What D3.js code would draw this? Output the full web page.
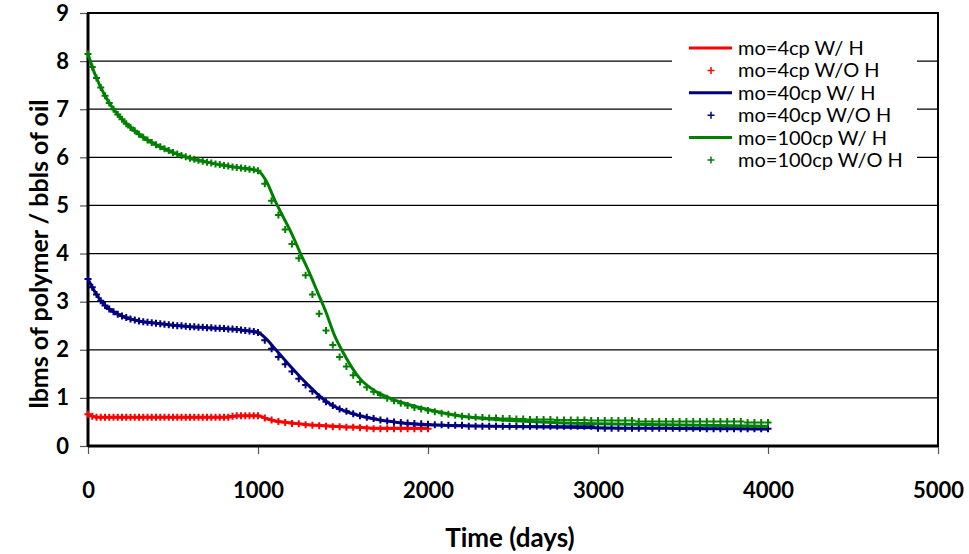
<!DOCTYPE html>
<html>
<head>
<meta charset="utf-8">
<script src="https://cdn.jsdelivr.net/npm/d3@7"></script>
<style>
  body { margin: 0; background: #fff; }
  text { font-family: Lato, "Open Sans", sans-serif; }
</style>
</head>
<body>
<div id="my_dataviz"></div>
<script>
// ---- data ----
var xTicks = [0, 1000, 2000, 3000, 4000, 5000];
var yTicks = [0, 1, 2, 3, 4, 5, 6, 7, 8, 9];

var seriesNames = ["mo=4cp W/ H", "mo=4cp W/O H", "mo=40cp W/ H", "mo=40cp W/O H", "mo=100cp W/ H", "mo=100cp W/O H"];

// times (days) for the "W/ H" lines
var tLine = [0, 25, 50, 100, 150, 200, 300, 400, 500, 600, 700, 800, 900, 1000, 1050, 1100, 1150, 1200, 1250, 1300,
             1350, 1400, 1450, 1500, 1600, 1700, 1800, 1900, 2000, 2200, 2400, 2600, 2800, 3000, 3200, 3400, 3600, 3800, 4000];

var redLine = [0.66, 0.62, 0.60, 0.60, 0.60, 0.60, 0.60, 0.60, 0.60, 0.60, 0.60, 0.60, 0.63, 0.63, 0.57, 0.52, 0.50, 0.48, 0.46, 0.44,
               0.43, 0.42, 0.41, 0.40, 0.39, 0.37, 0.37, 0.37, 0.37];
var blueLine = [3.47, 3.30, 3.15, 2.92, 2.79, 2.70, 2.60, 2.55, 2.51, 2.48, 2.46, 2.44, 2.41, 2.36, 2.22, 2.02, 1.82, 1.62, 1.43, 1.25,
                1.08, 0.93, 0.82, 0.74, 0.63, 0.55, 0.50, 0.46, 0.44, 0.42, 0.41, 0.40, 0.39, 0.38, 0.37, 0.37, 0.36, 0.36, 0.35];
var greenLine = [8.15, 7.88, 7.65, 7.28, 7.00, 6.79, 6.48, 6.26, 6.10, 5.98, 5.90, 5.83, 5.78, 5.72, 5.50, 5.10, 4.75, 4.40, 4.00, 3.62,
                 3.20, 2.78, 2.30, 1.95, 1.40, 1.12, 0.96, 0.85, 0.76, 0.62, 0.55, 0.51, 0.48, 0.46, 0.45, 0.44, 0.43, 0.42, 0.41];

// times (days) for the "W/O H" markers
var tMark = [0, 25, 50, 75, 100, 125, 150, 175, 200, 225, 250, 275, 300, 325, 350, 375, 400, 425, 450, 475, 500,
             525, 550, 575, 600, 625, 650, 675, 700, 725, 750, 775, 800, 825, 850, 875, 900, 925, 950, 975, 1000,
             1040, 1080, 1120, 1160, 1200, 1240, 1280, 1320, 1360, 1400, 1440, 1480, 1520, 1560, 1600, 1640, 1680, 1720, 1760, 1800, 1840, 1880, 1920, 1960, 2000,
             2040, 2080, 2120, 2160, 2200, 2240, 2280, 2320, 2360, 2400, 2440, 2480, 2520, 2560, 2600, 2640, 2680, 2720, 2760, 2800, 2840, 2880, 2920, 2960, 3000,
             3040, 3080, 3120, 3160, 3200, 3240, 3280, 3320, 3360, 3400, 3440, 3480, 3520, 3560, 3600, 3640, 3680, 3720, 3760, 3800, 3840, 3880, 3920, 3960, 4000];

var redMark = [0.66, 0.62, 0.60, 0.60, 0.60, 0.60, 0.60, 0.60, 0.60, 0.60, 0.60, 0.60, 0.60, 0.60, 0.60, 0.60, 0.60, 0.60, 0.60, 0.60, 0.60,
               0.60, 0.60, 0.60, 0.60, 0.60, 0.60, 0.60, 0.60, 0.60, 0.60, 0.60, 0.60, 0.60, 0.62, 0.63, 0.63, 0.63, 0.63, 0.63, 0.63,
               0.58, 0.54, 0.51, 0.49, 0.47, 0.46, 0.44, 0.43, 0.42, 0.41, 0.40, 0.40, 0.39, 0.39, 0.38, 0.37, 0.36, 0.36, 0.36, 0.36, 0.36, 0.36, 0.36, 0.36, 0.36];
var blueMark = [3.47, 3.30, 3.15, 3.02, 2.92, 2.85, 2.79, 2.74, 2.70, 2.67, 2.64, 2.62, 2.60, 2.58, 2.57, 2.56, 2.55, 2.54, 2.53, 2.52, 2.51,
                2.50, 2.50, 2.49, 2.48, 2.48, 2.47, 2.47, 2.46, 2.46, 2.45, 2.45, 2.44, 2.43, 2.43, 2.42, 2.41, 2.40, 2.39, 2.38, 2.36,
                2.20, 2.02, 1.85, 1.70, 1.55, 1.40, 1.27, 1.14, 1.02, 0.92, 0.84, 0.77, 0.72, 0.67, 0.63, 0.60, 0.57, 0.54, 0.52, 0.50, 0.49, 0.48, 0.47, 0.46, 0.45,
                0.44, 0.44, 0.43, 0.43, 0.43, 0.41, 0.41, 0.41, 0.41, 0.41, 0.41, 0.41, 0.41, 0.41, 0.41, 0.41, 0.41, 0.41, 0.41, 0.41, 0.41, 0.41, 0.41, 0.41, 0.37,
                0.37, 0.37, 0.37, 0.37, 0.37, 0.37, 0.37, 0.37, 0.37, 0.37, 0.37, 0.37, 0.37, 0.37, 0.37, 0.36, 0.36, 0.36, 0.36, 0.36, 0.36, 0.36, 0.36, 0.36, 0.36];
var greenMark = [8.15, 7.88, 7.65, 7.45, 7.28, 7.13, 7.00, 6.89, 6.79, 6.70, 6.62, 6.55, 6.48, 6.42, 6.36, 6.31, 6.26, 6.22, 6.18, 6.14, 6.10,
                 6.07, 6.04, 6.01, 5.98, 5.96, 5.94, 5.92, 5.90, 5.88, 5.86, 5.85, 5.83, 5.82, 5.80, 5.79, 5.78, 5.77, 5.75, 5.74, 5.72,
                 5.45, 5.10, 4.80, 4.50, 4.20, 3.90, 3.55, 3.15, 2.75, 2.40, 2.10, 1.85, 1.65, 1.47, 1.33, 1.22, 1.13, 1.06, 0.99, 0.94, 0.89, 0.84, 0.80, 0.77, 0.74,
                 0.71, 0.68, 0.66, 0.64, 0.62, 0.61, 0.60, 0.59, 0.58, 0.58, 0.57, 0.57, 0.56, 0.56, 0.55, 0.55, 0.55, 0.55, 0.54, 0.54, 0.54, 0.54, 0.54, 0.53, 0.53,
                 0.53, 0.53, 0.53, 0.53, 0.53, 0.51, 0.51, 0.51, 0.51, 0.51, 0.51, 0.51, 0.51, 0.51, 0.51, 0.51, 0.51, 0.51, 0.51, 0.51, 0.51, 0.49, 0.49, 0.49, 0.49];

var colors = ["#ff0000", "#000080", "#008000"];

// set the dimensions and margins of the graph
var margin = {top: 13, right: 31, bottom: 108, left: 88},
    width = 969 - margin.left - margin.right,
    height = 554 - margin.top - margin.bottom;

var svg = d3.select("#my_dataviz")
  .append("svg")
    .attr("width", width + margin.left + margin.right)
    .attr("height", height + margin.top + margin.bottom)
  .append("g")
    .attr("transform", "translate(" + margin.left + "," + margin.top + ")");

var x = d3.scaleLinear().domain([0, 5000]).range([0, width]);
var y = d3.scaleLinear().domain([0, 9]).range([height, 0]);

// gridlines
svg.append("g")
  .selectAll("line")
  .data(yTicks.slice(1, -1))
  .enter()
  .append("line")
    .attr("x1", 0)
    .attr("x2", width)
    .attr("y1", function (d) { return y(d); })
    .attr("y2", function (d) { return y(d); })
    .style("stroke", "#000")
    .style("stroke-width", 1.2);

// legend background hides the grid behind it
svg.append("rect")
  .attr("x", 584)
  .attr("y", 22)
  .attr("width", 245)
  .attr("height", 138)
  .style("fill", "#fff");

// axes
var x_axis = d3.axisBottom(x).tickValues(xTicks).tickSize(8).tickPadding(28).tickFormat(d3.format("d"));
var y_axis = d3.axisLeft(y).tickValues(yTicks).tickSize(8).tickPadding(11);

svg.append("g")
  .attr("class", "x axis")
  .attr("transform", "translate(0," + height + ")")
  .call(x_axis);

svg.append("g")
  .attr("class", "y axis")
  .call(y_axis);

svg.selectAll(".axis .domain").remove();
svg.selectAll(".axis line").style("stroke", "#555").style("stroke-width", 1.2);
svg.selectAll(".axis text")
  .style("font-size", "22px")
  .style("font-weight", "bold")
  .style("fill", "#000");

// plot frame
svg.append("rect")
  .attr("x", 0).attr("y", 0)
  .attr("width", width).attr("height", height)
  .style("fill", "none")
  .style("stroke", "#000")
  .style("stroke-width", 2);
svg.append("line").attr("x1", 0).attr("x2", 0).attr("y1", 0).attr("y2", height)
  .style("stroke", "#000").style("stroke-width", 3);
svg.append("line").attr("x1", 0).attr("x2", width).attr("y1", height).attr("y2", height)
  .style("stroke", "#000").style("stroke-width", 3);

// series
var line = d3.line()
  .x(function (d) { return x(d[0]); })
  .y(function (d) { return y(d[1]); })
  .curve(d3.curveMonotoneX);

var plus = "M-3.5,0H3.5M0,-3.5V3.5";

var series = [
  {line: redLine, mark: redMark, color: colors[0]},
  {line: blueLine, mark: blueMark, color: colors[1]},
  {line: greenLine, mark: greenMark, color: colors[2]}
];

series.forEach(function (s) {
  var lineData = s.line.map(function (v, i) { return [tLine[i], v]; });
  var markData = s.mark.map(function (v, i) { return [tMark[i], v]; });

  svg.append("path")
    .datum(lineData)
    .attr("d", line)
    .style("fill", "none")
    .style("stroke", s.color)
    .style("stroke-width", 3);

  svg.append("g")
    .selectAll("path")
    .data(markData)
    .enter()
    .append("path")
      .attr("transform", function (d) { return "translate(" + x(d[0]) + "," + y(d[1]) + ")"; })
      .attr("d", plus)
      .style("fill", "none")
      .style("stroke", s.color)
      .style("stroke-width", 2);
});

// legend
var legend = svg.append("g").attr("transform", "translate(601,35)");
seriesNames.forEach(function (name, i) {
  var row = legend.append("g").attr("transform", "translate(0," + (i * 22.4) + ")");
  var c = colors[Math.floor(i / 2)];
  if (i % 2 === 0) {
    row.append("line")
      .attr("x1", 0).attr("x2", 43)
      .attr("y1", 0).attr("y2", 0)
      .style("stroke", c)
      .style("stroke-width", 3);
  } else {
    row.append("path")
      .attr("transform", "translate(22,0)")
      .attr("d", plus)
      .style("fill", "none")
      .style("stroke", c)
      .style("stroke-width", 1.5);
  }
  row.append("text")
    .attr("x", 49)
    .attr("dy", "0.35em")
    .style("font-size", "20px")
    .text(name);
});

// text label for the x axis
svg.append("text")
  .attr("x", 422)
  .attr("y", 534)
  .style("text-anchor", "middle")
  .style("font-size", "26px")
  .style("font-weight", "bold")
  .text("Time (days)");

// text label for the y axis
svg.append("text")
  .attr("transform", "rotate(-90)")
  .attr("x", -241)
  .attr("y", -40)
  .style("text-anchor", "middle")
  .style("font-size", "25px")
  .style("font-weight", "bold")
  .text("lbms of polymer / bbls of oil");
</script>
</body>
</html>
